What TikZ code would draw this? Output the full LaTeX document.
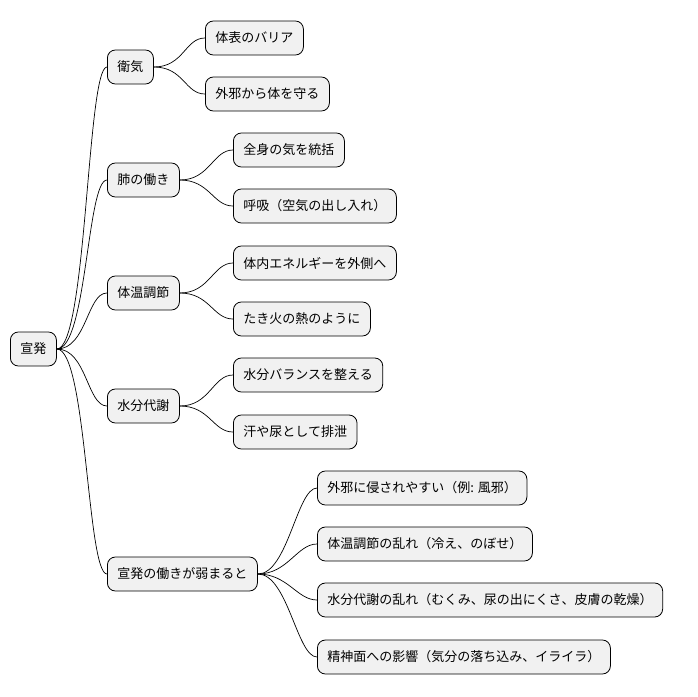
\documentclass[tikz,border=0pt]{standalone}
\usepackage{fontspec}
\newfontfamily\jp{Noto Sans CJK JP}
\begin{document}
\begin{tikzpicture}[x=1pt,y=-1pt,
  box/.style={draw=black,fill={rgb,255:red,241;green,241;blue,241},rounded corners=8pt,line width=0.8pt,
    minimum height=34pt,inner xsep=10pt,anchor=west,font=\jp\fontsize{13}{16}\selectfont},
  link/.style={draw=black,line width=0.7pt}]
\useasboundingbox (0,0) rectangle (698,696);
\node[box] (r) at (10,349) {宣発};
\node[box] (a) at (107,67) {衛気};
\node[box] (a1) at (205,38) {体表のバリア};
\node[box] (a2) at (205,94) {外邪から体を守る};
\node[box] (b) at (107,180) {肺の働き};
\node[box] (b1) at (233,150) {全身の気を統括};
\node[box] (b2) at (233,206) {呼吸（空気の出し入れ）};
\node[box] (c) at (107,293) {体温調節};
\node[box] (c1) at (233,263) {体内エネルギーを外側へ};
\node[box] (c2) at (233,319) {たき火の熱のように};
\node[box] (d) at (107,406) {水分代謝};
\node[box] (d1) at (233,375) {水分バランスを整える};
\node[box] (d2) at (233,432) {汗や尿として排泄};
\node[box] (e) at (107,574) {宣発の働きが弱まると};
\node[box] (e1) at (317,488) {外邪に侵されやすい（例: 風邪）};
\node[box] (e2) at (317,544) {体温調節の乱れ（冷え、のぼせ）};
\node[box] (e3) at (317,600) {水分代謝の乱れ（むくみ、尿の出にくさ、皮膚の乾燥）};
\node[box] (e4) at (317,657) {精神面への影響（気分の落ち込み、イライラ）};
\foreach \p/\c in {r/a,r/b,r/c,r/d,r/e,a/a1,a/a2,b/b1,b/b2,c/c1,c/c2,d/d1,d/d2,e/e1,e/e2,e/e3,e/e4}
  \draw[link] (\p.east) .. controls +(30,0) and +(-20,0) .. (\c.west);
\end{tikzpicture}
\end{document}
